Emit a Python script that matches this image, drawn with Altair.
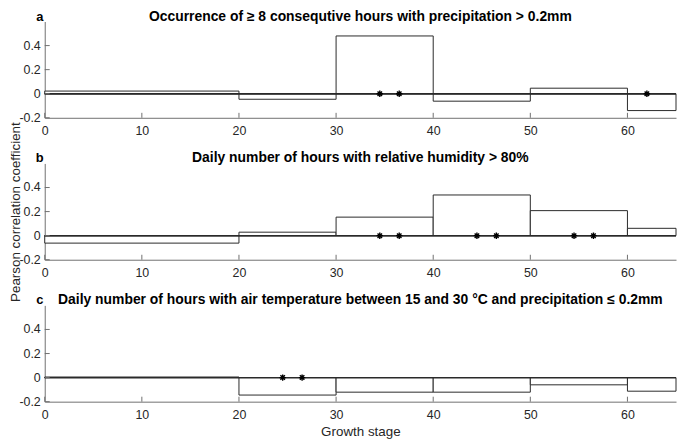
import altair as alt
import pandas as pd

# ---- data ----
stage_start = [0, 20, 30, 40, 50, 60]
stage_end = [20, 30, 40, 50, 60, 65]

vals_a = [0.022, -0.046, 0.48, -0.062, 0.046, -0.14]
vals_b = [-0.062, 0.029, 0.154, 0.338, 0.208, 0.061]
vals_c = [0.005, -0.145, -0.121, -0.121, -0.06, -0.113]

stars_a = [34.5, 36.5, 62]
stars_b = [34.5, 36.5, 44.5, 46.5, 54.5, 56.5]
stars_c = [24.5, 26.5]

titles = [
    "Occurrence of \u2265 8 consequtive hours with precipitation > 0.2mm",
    "Daily number of hours with relative humidity > 80%",
    "Daily number of hours with air temperature between 15 and 30 \u00b0C and precipitation \u2264 0.2mm",
]
panel_labels = ["a", "b", "c"]

x_ticks = [0, 10, 20, 30, 40, 50, 60]
y_ticks = [-0.2, 0, 0.2, 0.4]
y_tick_labels = ["-0.2", "0", "0.2", "0.4"]
x_domain = [0, 65]
y_domain = [-0.2, 0.6]

W = 636
H = 97
FONT = "Liberation Sans"
AX = "#707070"
TXT = "#262626"


def xenc(show_title):
    return alt.X(
        "x:Q",
        scale=alt.Scale(domain=x_domain, nice=False, zero=False),
        axis=alt.Axis(values=x_ticks, ticks=False, grid=False, labelPadding=7,
                      labelFlush=False, labelOverlap=False,
                      domainColor=AX, labelColor=TXT, labelFont=FONT, labelFontSize=12.5,
                      title="Growth stage" if show_title else "", titleFont=FONT,
                      titleFontSize=13.5, titleFontWeight="normal", titleColor=TXT,
                      titlePadding=4),
    )


def yenc(show_title):
    return alt.Y(
        "y:Q",
        scale=alt.Scale(domain=y_domain, nice=False, zero=False),
        axis=alt.Axis(values=y_ticks, ticks=False, grid=False, labels=False,
                      domainColor=AX,
                      title="Pearson correlation coefficient" if show_title else "",
                      titleFont=FONT, titleFontSize=13.5, titleFontWeight="normal",
                      titleColor=TXT, titlePadding=22),
    )


def panel(vals, stars, title, lab, show_x_title, show_y_title):
    bars_df = pd.DataFrame({"x": stage_start, "x2": stage_end, "y": vals})
    stars_df = pd.DataFrame({"x": stars, "y": [0.0] * len(stars)})
    xt_df = pd.DataFrame({"x": x_ticks})
    yt_df = pd.DataFrame({"y": y_ticks, "lab": y_tick_labels})
    lab_df = pd.DataFrame({"label": [lab], "title": [title]})

    X = xenc(show_x_title)
    Y = yenc(show_y_title)

    bars = alt.Chart(bars_df).mark_rect(fill="white", stroke="#2a2a2a", strokeWidth=1).encode(
        x=X, x2="x2:Q", y=Y, y2=alt.datum(0)
    )
    zero = alt.Chart(bars_df).mark_rule(color="#2a2a2a", strokeWidth=1).encode(
        y=alt.datum(0), x=alt.value(0), x2=alt.value(W)
    )
    xt = alt.Chart(xt_df).mark_rule(color=AX, strokeWidth=1).encode(
        x=X, y=alt.value(H), y2=alt.value(H - 5)
    )
    yt = alt.Chart(yt_df).mark_rule(color=AX, strokeWidth=1).encode(
        y=Y, x=alt.value(0), x2=alt.value(5)
    )
    ytl = alt.Chart(yt_df).mark_text(
        font=FONT, fontSize=12.5, color=TXT, align="right", baseline="middle"
    ).encode(y=Y, x=alt.value(-4), text="lab:N")
    st = alt.Chart(stars_df).mark_point(
        shape="M-1,0L1,0M0,-1L0,1M-0.7,-0.7L0.7,0.7M-0.7,0.7L0.7,-0.7",
        size=42, strokeWidth=1.4, color="black", filled=False, opacity=1,
    ).encode(x=X, y=Y)
    lt = alt.Chart(lab_df).mark_text(
        font=FONT, fontSize=13, fontWeight="bold", color="black", align="center", baseline="middle"
    ).encode(text="label:N", x=alt.value(-5), y=alt.value(-5))
    tt = alt.Chart(lab_df).mark_text(
        font=FONT, fontSize=14, fontWeight="bold", color="black", align="center", baseline="middle"
    ).encode(text="title:N", x=alt.value(W / 2), y=alt.value(-5))

    return alt.layer(bars, zero, xt, yt, ytl, st, lt, tt).properties(width=W, height=H)


pa = panel(vals_a, stars_a, titles[0], panel_labels[0], False, False)
pb = panel(vals_b, stars_b, titles[1], panel_labels[1], False, True)
pc = panel(vals_c, stars_c, titles[2], panel_labels[2], True, False)

chart = alt.vconcat(pa, pb, pc, spacing=46, bounds="flush").properties(padding=0).configure_view(stroke=None)

chart.save("out.html", embed_options={"renderer": "svg", "actions": False})
